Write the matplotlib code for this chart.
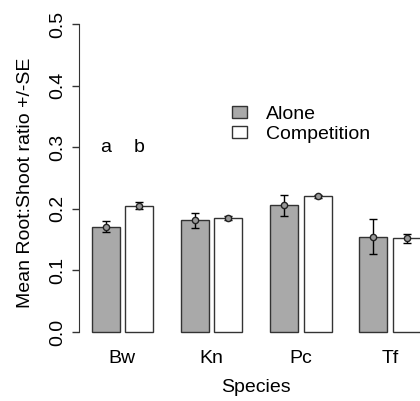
import numpy as np
import matplotlib.pyplot as plt
from matplotlib.patches import Patch

plt.rcParams['font.family'] = ['Liberation Sans', 'DejaVu Sans']

species = ['Bw', 'Kn', 'Pc', 'Tf']
alone = [0.171, 0.181, 0.206, 0.155]
alone_se = [0.009, 0.012, 0.017, 0.029]
comp = [0.205, 0.185, 0.220, 0.152]
comp_se = [0.006, 0.004, 0.003, 0.007]
letters = ['a', 'b']

W, H = 420, 401
fig = plt.figure(figsize=(W / 100, H / 100), dpi=100)
# R barplot style: width 1, space c(0.2, 1), xlim with 4% padding
ax = fig.add_axes([78.5 / W, 1 - 344.3 / H, (434 - 78.5) / W, (344.3 - 11.7) / H])

idx = np.arange(len(species))
xa = 1.5 + 3.2 * idx
xc = 2.7 + 3.2 * idx

ax.bar(xa, alone, width=1.0, color='#A9A9A9', edgecolor='#333333', linewidth=1)
ax.bar(xc, comp, width=1.0, color='white', edgecolor='#333333', linewidth=1)
for x, y, e in [(xa, alone, alone_se), (xc, comp, comp_se)]:
    ax.errorbar(x, y, yerr=e, fmt='o', color='black', ecolor='black',
                elinewidth=1, capsize=3, capthick=1, markersize=4.5,
                markerfacecolor='#999999', markeredgecolor='#222222', mew=1)

ax.text(xa[0], 0.3, letters[0], ha='center', va='center', fontsize=14)
ax.text(xc[0], 0.3, letters[1], ha='center', va='center', fontsize=14)

ax.set_xlim(0.528, 13.272)
ax.set_ylim(-0.02, 0.52)
for s in ['top', 'right', 'bottom']:
    ax.spines[s].set_visible(False)
ax.spines['left'].set_bounds(0, 0.5)
ax.spines['left'].set_color('#333333')

ax.set_yticks([0.0, 0.1, 0.2, 0.3, 0.4, 0.5])
ax.set_yticklabels(['0.0', '0.1', '0.2', '0.3', '0.4', '0.5'], rotation=90, va='center')
ax.tick_params(axis='y', length=5, width=1, color='#333333', pad=4, labelsize=14)
ax.set_xticks((xa + xc) / 2)
ax.set_xticklabels(species)
ax.tick_params(axis='x', length=0, pad=4, labelsize=14)

ax.set_xlabel('Species', fontsize=14)
ax.xaxis.set_label_coords(0.5, -0.131)
ax.xaxis.label.set_va('center')
ax.set_ylabel('Mean Root:Shoot ratio +/-SE', fontsize=14)
ax.yaxis.set_label_coords(-0.150, 0.485)
ax.yaxis.label.set_va('center')

handles = [Patch(facecolor='#A9A9A9', edgecolor='#333333'),
           Patch(facecolor='white', edgecolor='#333333')]
fig.legend(handles, ['Alone', 'Competition'], loc='upper left',
           bbox_to_anchor=(232 / W, 1 - 106 / H), frameon=False, fontsize=14,
           handlelength=0.75, handleheight=0.55, handletextpad=1.0,
           labelspacing=0.15, borderpad=0, borderaxespad=0)

fig.savefig('out.png', dpi=100)
